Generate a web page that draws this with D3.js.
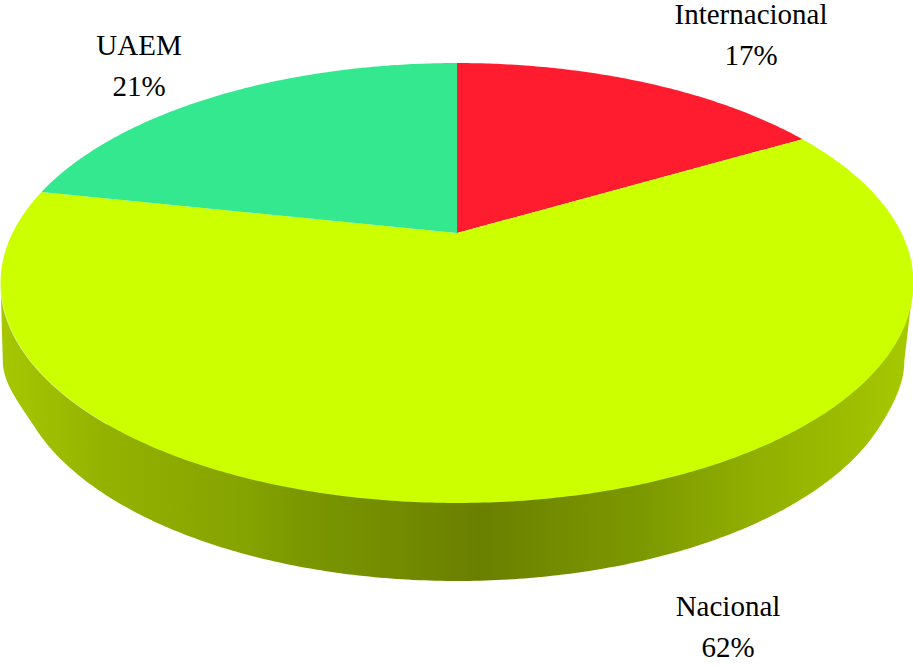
<!DOCTYPE html>
<html>
<head>
<meta charset="utf-8">
<script src="https://cdn.jsdelivr.net/npm/d3@7"></script>
<style>
  html, body { margin: 0; padding: 0; background: #fff; }
  svg { display: block; }
  text { font-family: "Liberation Serif", serif; font-size: 29px; fill: #000; text-anchor: middle; }
</style>
</head>
<body>
<div id="chart"></div>
<script>
const categories = ["Internacional", "Nacional", "UAEM"];
// slice sizes, the printed labels are rounded differently
const sliceShares = [16.65, 61.65, 21.7];
const printedShares = ["17%", "62%", "21%"];
const colors = ["#ff1c2e", "#ccff00", "#33e88f"];

const width = 913, height = 666;
const labelX = [751, 728, 139];
const labelY = [24, 616, 55];

// perspective of the tilted disc
const tilt = 0.2273;
const depth = 78;
const centerX = 457;
const xScale = d3.scaleLinear().domain([-1, 1]).range([centerX - 444.5, centerX + 444.5]);
const yScale = d3.scaleLinear().domain([-1, 1]).range([233 + 208.6, 233 - 208.6]);

function project(angle) {
  const d = 1 + tilt * Math.cos(angle);
  return [xScale(Math.sin(angle) / d), yScale(Math.cos(angle) / d)];
}

const svg = d3.select("#chart").append("svg")
  .attr("width", width)
  .attr("height", height);

// side wall shading, dark in the middle
const grad = svg.append("defs").append("linearGradient")
  .attr("id", "wall")
  .attr("gradientUnits", "userSpaceOnUse")
  .attr("x1", 0).attr("x2", width).attr("y1", 0).attr("y2", 0);
[[0, "#a6c800"], [0.11, "#94b300"], [0.22, "#8aa700"], [0.27, "#85a300"], [0.33, "#7b9700"], [0.44, "#728b00"],
 [0.525, "#6a7f00"], [0.61, "#738c00"], [0.70, "#7c9800"], [0.82, "#8fae00"], [0.93, "#9dbd00"], [1, "#a6ca00"]]
  .forEach(function (s) {
    grad.append("stop").attr("offset", s[0]).attr("stop-color", s[1]);
  });

const line = d3.line();
const rimStart = Math.acos(-tilt);
const rimEnd = 2 * Math.PI - rimStart;
const rimAngles = d3.range(rimStart, rimEnd, 0.01).concat([rimEnd]);

// the base of the disc sits lower and a little narrower than the top
const narrow = d3.scaleLinear().domain([361, 430]).range([0, 1]).clamp(true);
const wallPoints = rimAngles.map(function (a) {
  const p = project(a);
  const y = p[1] + depth;
  const s0 = p[0] < centerX ? 0.995 : 0.98;
  const s = s0 + (0.97 - s0) * d3.easeSinInOut(narrow(y));
  return [centerX + (p[0] - centerX) * s, y];
});
wallPoints.unshift(project(rimStart));
wallPoints.push(project(rimEnd));

svg.append("path")
  .attr("d", line(wallPoints) + "Z")
  .attr("fill", "url(#wall)");

const pie = d3.pie().sort(null)(sliceShares);

svg.selectAll("path.slice")
  .data(pie)
  .enter().append("path")
  .attr("class", "slice")
  .attr("fill", function (d, i) { return colors[i]; })
  .attr("d", function (d) {
    const steps = d3.range(d.startAngle, d.endAngle, 0.01).concat([d.endAngle]);
    return line([[xScale(0), yScale(0)]].concat(steps.map(project))) + "Z";
  });

// thin light edge on the lower left of the rim
const edgeAngles = rimAngles.filter(function (a) { return project(a)[0] < 110; });
svg.append("path")
  .attr("d", line(edgeAngles.map(project)))
  .attr("fill", "none")
  .attr("stroke", "#fff")
  .attr("stroke-opacity", 0.7)
  .attr("stroke-width", 0.7);

const labels = svg.selectAll("g.label")
  .data(categories)
  .enter().append("g")
  .attr("class", "label")
  .attr("transform", function (d, i) { return "translate(" + labelX[i] + "," + labelY[i] + ")"; });

labels.append("text").text(function (d) { return d; });
labels.append("text").attr("y", 41).text(function (d, i) { return printedShares[i]; });
</script>
</body>
</html>
